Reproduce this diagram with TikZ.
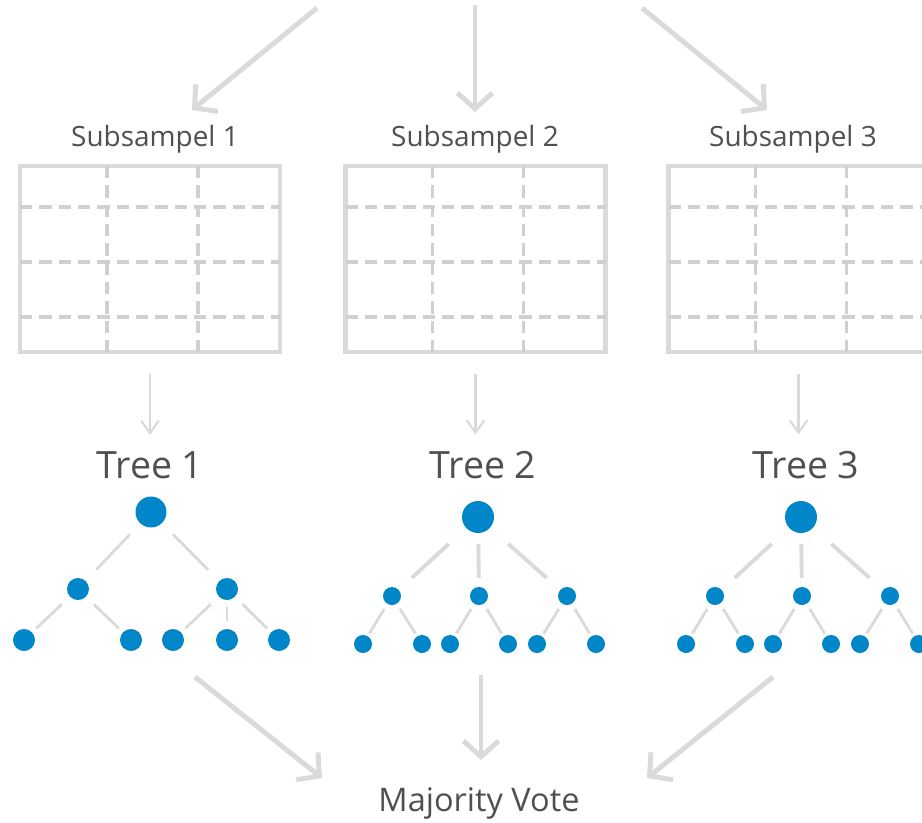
\documentclass[tikz,border=0pt]{standalone}
\usepackage{fontspec}
\setmainfont{Open Sans}
\usepackage{tikz}
\usetikzlibrary{arrows.meta,calc}

\definecolor{linegray}{RGB}{218,218,218}
\definecolor{dashgray}{RGB}{208,208,208}
\definecolor{textgray}{RGB}{80,80,80}
\definecolor{leafblue}{RGB}{0,134,201}

\tikzset{
  bigarrow/.style={draw=linegray, line width=2.8pt, -{Straight Barb[length=9pt,width=20pt]}},
  thinarrow/.style={draw=linegray, line width=1.2pt, -{Straight Barb[length=7pt,width=10pt]}, shorten <=0.4cm, shorten >=0.32cm},
  sheet/.style={draw=linegray, line width=2.6pt, minimum width=5.2cm, minimum height=3.72cm, inner sep=0pt},
  gridline/.style={draw=dashgray, line width=2pt, dash pattern=on 7pt off 4pt},
  subname/.style={text=textgray, anchor=base, inner sep=0pt, font=\fontsize{15.9}{18}\selectfont},
  treename/.style={text=textgray, anchor=base, inner sep=0pt, font=\fontsize{21.4}{24}\selectfont},
  root/.style={circle, fill=leafblue, inner sep=0pt, minimum size=0.62cm},
  knot/.style={circle, fill=leafblue, inner sep=0pt, minimum size=0.44cm},
  bigroot/.style={circle, fill=leafblue, inner sep=0pt, minimum size=0.64cm},
  leaf/.style={circle, fill=leafblue, inner sep=0pt, minimum size=0.36cm},
  twig/.style={draw=linegray, line width=1.6pt},
  thicktwig/.style={draw=linegray, line width=2.2pt},
}

\begin{document}
\begin{tikzpicture}[x=0.02cm,y=-0.02cm]
	\useasboundingbox (0,0) rectangle (922,822);
	\fill[white] (0,0) rectangle (922,822);

	% arrows coming down from the full data set
	\coordinate (in1) at (317,8);   \coordinate (to1) at (192,110);
	\coordinate (in2) at (475,5);   \coordinate (to2) at (475,112);
	\coordinate (in3) at (642,8);   \coordinate (to3) at (767,110);
	\draw[bigarrow] (in1) -- (to1);
	\draw[bigarrow] (in2) -- (to2);
	\draw[bigarrow] (in3) -- (to3);

	% Subsample 1
	\node[subname] (sub1) at (155,146) {Subsampel 1};
	\node[sheet] (tab1) at (150,259) {};
	\begin{scope}[shift={(150,259)}]
		\draw[gridline] (-43,-93) -- (-43,93);
		\draw[gridline] (48,-93) -- (48,93);
		\draw[gridline] (-130,-52) -- (130,-52);
		\draw[gridline] (-130,3) -- (130,3);
		\draw[gridline] (-130,58) -- (130,58);
	\end{scope}
	\node[treename] (name1) at (150,478) {Tree 1};
	\draw[thinarrow] (tab1.south) -- (name1.north);

	% Tree 1 (binary)
	\node[root] (r1) at (151,512) {};
	\node[knot] (a1) at (78,589) {};
	\node[knot] (b1) at (227,589) {};
	\node[knot] (l11) at (24,640) {};
	\node[knot] (l12) at (131,640) {};
	\node[knot] (l13) at (173,640) {};
	\node[knot] (l14) at (227,640) {};
	\node[knot] (l15) at (279,640) {};
	\draw[twig] ($(r1)!.29!(a1)$) -- ($(r1)!.75!(a1)$);
	\draw[twig] ($(r1)!.29!(b1)$) -- ($(r1)!.75!(b1)$);
	\draw[twig] ($(a1)!.3!(l11)$) -- ($(a1)!.77!(l11)$);
	\draw[twig] ($(a1)!.3!(l12)$) -- ($(a1)!.77!(l12)$);
	\draw[twig] ($(b1)!.3!(l13)$) -- ($(b1)!.77!(l13)$);
	\draw[twig] ($(b1)!.35!(l14)$) -- ($(b1)!.63!(l14)$);
	\draw[twig] ($(b1)!.3!(l15)$) -- ($(b1)!.77!(l15)$);

	% Subsample 2
	\node[subname] (sub2) at (475,146) {Subsampel 2};
	\node[sheet] (tab2) at (475.5,259) {};
	\begin{scope}[shift={(475.5,259)}]
		\draw[gridline] (-43,-93) -- (-43,93);
		\draw[gridline] (48,-93) -- (48,93);
		\draw[gridline] (-130,-52) -- (130,-52);
		\draw[gridline] (-130,3) -- (130,3);
		\draw[gridline] (-130,58) -- (130,58);
	\end{scope}
	\node[treename] (name2) at (483,478) {Tree 2};
	\draw[thinarrow] (tab2.south) -- (tab2.south |- name2.north);

	% Tree 2 (three branches)
	\node[bigroot] (r2) at (478,517) {};
	\node[leaf] (a2) at (392,596) {};
	\node[leaf] (b2) at (479,596) {};
	\node[leaf] (c2) at (567,596) {};
	\node[leaf] (l21) at (363,644) {};
	\node[leaf] (l22) at (422,644) {};
	\node[leaf] (l23) at (450,644) {};
	\node[leaf] (l24) at (508,644) {};
	\node[leaf] (l25) at (537,644) {};
	\node[leaf] (l26) at (596,644) {};
	\draw[thicktwig] ($(r2)!.34!(a2)$) -- ($(r2)!.77!(a2)$);
	\draw[thicktwig] ($(r2)!.34!(b2)$) -- ($(r2)!.77!(b2)$);
	\draw[thicktwig] ($(r2)!.34!(c2)$) -- ($(r2)!.77!(c2)$);
	\draw[twig] ($(a2)!.27!(l21)$) -- ($(a2)!.78!(l21)$);
	\draw[twig] ($(a2)!.27!(l22)$) -- ($(a2)!.78!(l22)$);
	\draw[twig] ($(b2)!.27!(l23)$) -- ($(b2)!.78!(l23)$);
	\draw[twig] ($(b2)!.27!(l24)$) -- ($(b2)!.78!(l24)$);
	\draw[twig] ($(c2)!.27!(l25)$) -- ($(c2)!.78!(l25)$);
	\draw[twig] ($(c2)!.27!(l26)$) -- ($(c2)!.78!(l26)$);

	% Subsample 3, same as the second column
	\begin{scope}[shift={(323,0)}]
		\node[subname] (sub3) at (470,146) {Subsampel 3};
		\node[sheet] (tab3) at (475.5,259) {};
		\begin{scope}[shift={(475.5,259)}]
			\draw[gridline] (-43,-93) -- (-43,93);
			\draw[gridline] (48,-93) -- (48,93);
			\draw[gridline] (-130,-52) -- (130,-52);
			\draw[gridline] (-130,3) -- (130,3);
			\draw[gridline] (-130,58) -- (130,58);
		\end{scope}
		\node[treename] (name3) at (483,478) {Tree 3};
		\draw[thinarrow] (tab3.south) -- (tab3.south |- name3.north);

		\node[bigroot] (r3) at (478,517) {};
		\node[leaf] (a3) at (392,596) {};
		\node[leaf] (b3) at (479,596) {};
		\node[leaf] (c3) at (567,596) {};
		\node[leaf] (l31) at (363,644) {};
		\node[leaf] (l32) at (422,644) {};
		\node[leaf] (l33) at (450,644) {};
		\node[leaf] (l34) at (508,644) {};
		\node[leaf] (l35) at (537,644) {};
		\node[leaf] (l36) at (596,644) {};
		\draw[thicktwig] ($(r3)!.34!(a3)$) -- ($(r3)!.77!(a3)$);
		\draw[thicktwig] ($(r3)!.34!(b3)$) -- ($(r3)!.77!(b3)$);
		\draw[thicktwig] ($(r3)!.34!(c3)$) -- ($(r3)!.77!(c3)$);
		\draw[twig] ($(a3)!.27!(l31)$) -- ($(a3)!.78!(l31)$);
		\draw[twig] ($(a3)!.27!(l32)$) -- ($(a3)!.78!(l32)$);
		\draw[twig] ($(b3)!.27!(l33)$) -- ($(b3)!.78!(l33)$);
		\draw[twig] ($(b3)!.27!(l34)$) -- ($(b3)!.78!(l34)$);
		\draw[twig] ($(c3)!.27!(l35)$) -- ($(c3)!.78!(l35)$);
		\draw[twig] ($(c3)!.27!(l36)$) -- ($(c3)!.78!(l36)$);
	\end{scope}

	% votes collected at the bottom
	\coordinate (out1) at (195,677);  \coordinate (vote1) at (322,778);
	\coordinate (out2) at (481,675);  \coordinate (vote2) at (481,760);
	\coordinate (out3) at (773,677);  \coordinate (vote3) at (647,778);
	\draw[bigarrow] (out1) -- (vote1);
	\draw[bigarrow] (out2) -- (vote2);
	\draw[bigarrow] (out3) -- (vote3);
	\node[text=textgray, anchor=base, inner sep=0pt, font=\fontsize{18.5}{21}\selectfont] (vote) at (479,811) {Majority Vote};
\end{tikzpicture}
\end{document}
